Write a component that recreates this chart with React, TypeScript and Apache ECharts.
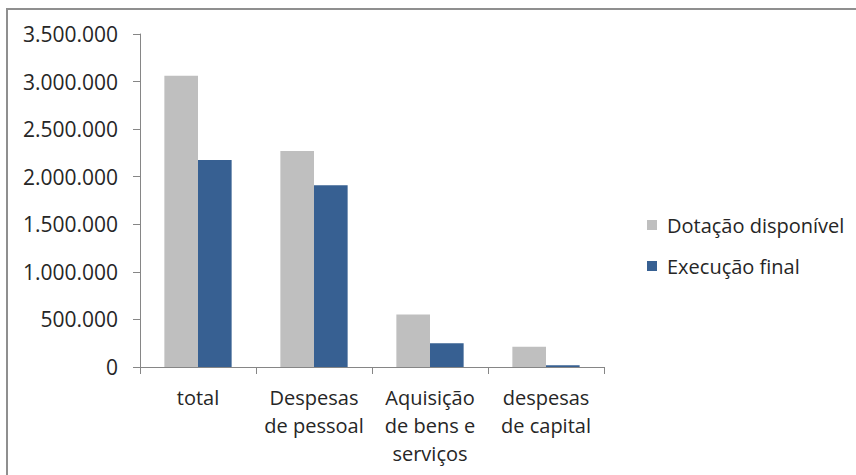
import React, { useEffect, useRef } from "react";
import * as echarts from "echarts";

const categories = [
  "total",
  "Despesas\nde pessoal",
  "Aquisição\nde bens e\nserviços",
  "despesas\nde capital",
];
const seriesNames = ["Dotação disponível", "Execução final"];
const dotacao = [3062000, 2270000, 553000, 213000];
const execucao = [2176000, 1910000, 249000, 18000];

const FONT = "'Open Sans', 'Noto Sans', sans-serif";

const fmt = (v: number) =>
  String(Math.round(v)).replace(/\B(?=(\d{3})+(?!\d))/g, ".");

export default function App() {
  const ref = useRef<HTMLDivElement>(null);

  useEffect(() => {
    document.body.style.margin = "0";
    if (!ref.current) return;
    const chart = echarts.init(ref.current, null, { renderer: "svg" });
    chart.setOption({
      animation: false,
      backgroundColor: "#ffffff",
      textStyle: { fontFamily: FONT },
      graphic: [
        {
          type: "line",
          shape: { x1: 6, y1: 9, x2: 856, y2: 9 },
          style: { stroke: "#8f8f8f", lineWidth: 2 },
          silent: true,
        },
        {
          type: "line",
          shape: { x1: 7, y1: 8, x2: 7, y2: 475 },
          style: { stroke: "#8f8f8f", lineWidth: 2 },
          silent: true,
        },
      ],
      grid: { left: 140, right: 252, top: 34, bottom: 108, containLabel: false },
      legend: {
        orient: "vertical",
        left: 642,
        top: 210,
        itemWidth: 10,
        itemHeight: 10,
        itemGap: 21,
        icon: "rect",
        data: seriesNames,
        textStyle: {
          fontFamily: FONT,
          fontSize: 20,
          color: "#262626",
          padding: [0, 0, 0, 5],
        },
      },
      xAxis: {
        type: "category",
        data: categories,
        axisLine: { lineStyle: { color: "#868686", width: 1 } },
        axisTick: { show: true, length: 7, lineStyle: { color: "#868686" } },
        axisLabel: {
          interval: 0,
          margin: 16,
          fontFamily: FONT,
          fontSize: 20,
          lineHeight: 28,
          color: "#262626",
        },
      },
      yAxis: {
        type: "value",
        min: 0,
        max: 3500000,
        interval: 500000,
        axisLine: { show: true, lineStyle: { color: "#868686", width: 1 } },
        axisTick: { show: true, length: 7, lineStyle: { color: "#868686" } },
        splitLine: { show: false },
        axisLabel: {
          margin: 22,
          fontFamily: FONT,
          fontSize: 21,
          color: "#262626",
          formatter: (v: number) => fmt(v),
        },
      },
      series: [
        {
          name: seriesNames[0],
          type: "bar",
          data: dotacao,
          barGap: "0%",
          barCategoryGap: "42%",
          itemStyle: { color: "#bfbfbf" },
        },
        {
          name: seriesNames[1],
          type: "bar",
          data: execucao,
          barGap: "0%",
          barCategoryGap: "42%",
          itemStyle: { color: "#376092" },
        },
      ],
    });
    return () => chart.dispose();
  }, []);

  return <div ref={ref} style={{ width: 856, height: 475 }} />;
}
